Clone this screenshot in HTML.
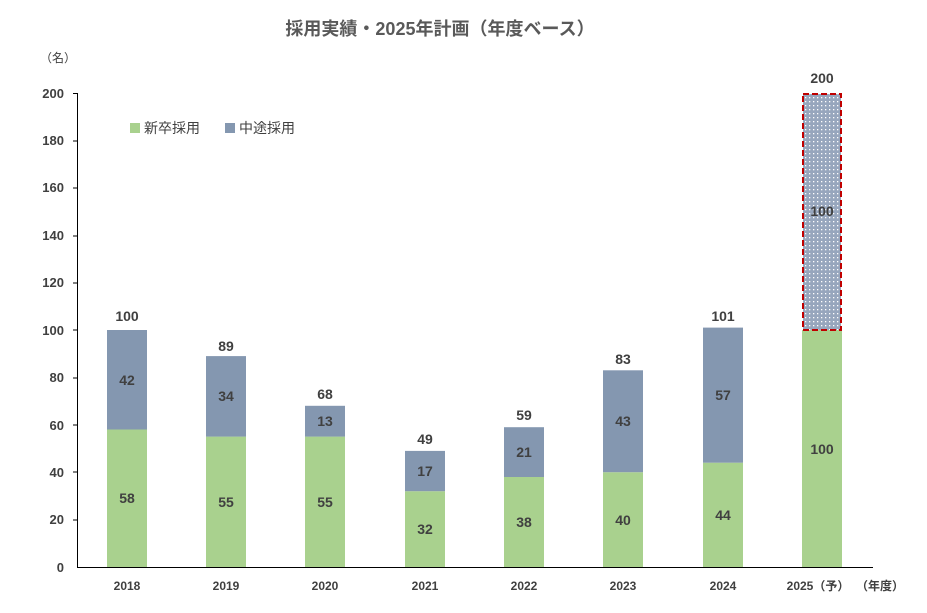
<!DOCTYPE html><html><head><meta charset="utf-8"><style>body{margin:0;background:#fff}svg{display:block;font-family:"Liberation Sans","Noto Sans CJK JP",sans-serif}</style></head><body>
<svg width="927" height="613" xmlns="http://www.w3.org/2000/svg">
<defs><pattern id="dots" width="4" height="4" patternUnits="userSpaceOnUse"><rect width="4" height="4" fill="#97a6bd"/><rect x="1" y="1" width="1.3" height="1.3" fill="#fff"/></pattern></defs>
<text x="440" y="35" text-anchor="middle" font-size="18" font-weight="bold" fill="#595959">採用実績・2025年計画（年度ベース）</text>
<text x="40" y="62" font-size="12" fill="#404040">（名）</text>
<g font-size="13" font-weight="bold" fill="#404040" text-anchor="end">
<text x="64" y="572">0</text><text x="64" y="524">20</text><text x="64" y="477">40</text><text x="64" y="430">60</text><text x="64" y="382">80</text><text x="64" y="335">100</text><text x="64" y="287">120</text><text x="64" y="240">140</text><text x="64" y="192">160</text><text x="64" y="145">180</text><text x="64" y="98">200</text></g>
<g stroke="#000" stroke-width="1"><line x1="77.5" y1="93" x2="77.5" y2="567"/><line x1="77" y1="567.5" x2="873" y2="567.5"/>
<line x1="73" y1="93.5" x2="77" y2="93.5"/><line x1="73" y1="141" x2="77" y2="141"/><line x1="73" y1="188" x2="77" y2="188"/><line x1="73" y1="236" x2="77" y2="236"/><line x1="73" y1="283" x2="77" y2="283"/><line x1="73" y1="330" x2="77" y2="330"/><line x1="73" y1="378" x2="77" y2="378"/><line x1="73" y1="425" x2="77" y2="425"/><line x1="73" y1="472" x2="77" y2="472"/><line x1="73" y1="520" x2="77" y2="520"/></g>
<rect x="130" y="123" width="10" height="10" fill="#a9d18e"/><text x="144" y="133" font-size="14" fill="#404040">新卒採用</text>
<rect x="225" y="123" width="10" height="10" fill="#8497b0"/><text x="239" y="133" font-size="14" fill="#404040">中途採用</text>
<g fill="#a9d18e">
<rect x="107" y="429.5" width="40" height="137.5"/><rect x="206" y="436.6" width="40" height="130.4"/><rect x="305" y="436.6" width="40" height="130.4"/><rect x="405" y="491.2" width="40" height="75.8"/><rect x="504" y="477" width="40" height="90"/><rect x="603" y="472.2" width="40" height="94.8"/><rect x="703" y="462.7" width="40" height="104.3"/><rect x="802" y="330" width="40" height="237"/></g>
<g fill="#8497b0">
<rect x="107" y="330" width="40" height="99.5"/><rect x="206" y="356.1" width="40" height="80.5"/><rect x="305" y="405.8" width="40" height="30.8"/><rect x="405" y="450.9" width="40" height="40.3"/><rect x="504" y="427.2" width="40" height="49.8"/><rect x="603" y="370.3" width="40" height="101.9"/><rect x="703" y="327.6" width="40" height="135.1"/></g>
<rect x="803" y="94" width="38" height="236" fill="url(#dots)" stroke="#c00000" stroke-width="2" stroke-dasharray="6,3"/>
<g font-size="14" font-weight="bold" fill="#404040" text-anchor="middle">
<text x="127" y="503">58</text><text x="127" y="385">42</text><text x="127" y="321">100</text>
<text x="226" y="507">55</text><text x="226" y="401">34</text><text x="226" y="351">89</text>
<text x="325" y="507">55</text><text x="325" y="426">13</text><text x="325" y="399">68</text>
<text x="425" y="534">32</text><text x="425" y="476">17</text><text x="425" y="444">49</text>
<text x="524" y="527">38</text><text x="524" y="457">21</text><text x="524" y="420">59</text>
<text x="623" y="525">40</text><text x="623" y="426">43</text><text x="623" y="364">83</text>
<text x="723" y="520">44</text><text x="723" y="400">57</text><text x="723" y="321">101</text>
<text x="822" y="454">100</text><text x="822" y="216">100</text><text x="822" y="83">200</text></g>
<g font-size="12" font-weight="bold" fill="#404040" text-anchor="middle">
<text x="127" y="590">2018</text><text x="226" y="590">2019</text><text x="325" y="590">2020</text><text x="425" y="590">2021</text><text x="524" y="590">2022</text><text x="623" y="590">2023</text><text x="723" y="590">2024</text><text x="818" y="590">2025（予）</text></g>
<text x="856" y="590" font-size="12" font-weight="bold" fill="#404040">（年度）</text>
</svg></body></html>
